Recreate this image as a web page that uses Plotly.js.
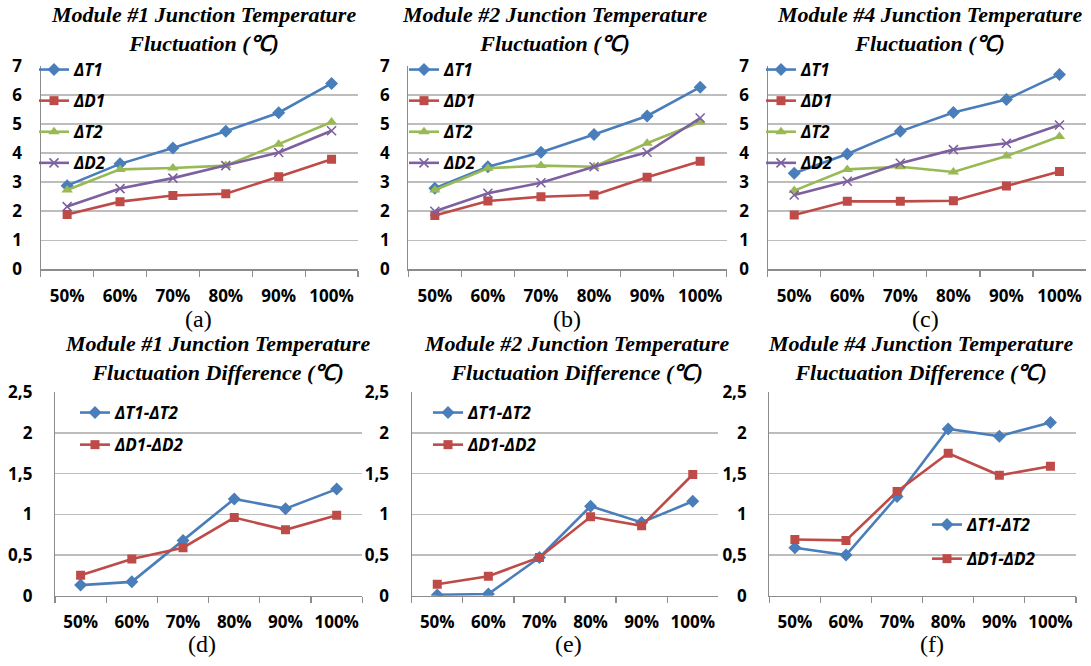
<!DOCTYPE html>
<html>
<head>
<meta charset="utf-8">
<script src="https://cdn.plot.ly/plotly-3.0.1.min.js"></script>
<style>html,body{margin:0;padding:0;background:#fff;}#chart{width:1091px;height:666px;}</style>
</head>
<body>
<div id="chart"></div>
<script>
// ---------- DATA ----------
const categories = ["50%", "60%", "70%", "80%", "90%", "100%"];

// Module #1
const m1_dT1 = [2.88, 3.63, 4.18, 4.75, 5.39, 6.40];
const m1_dD1 = [1.89, 2.33, 2.54, 2.60, 3.19, 3.79];
const m1_dT2 = [2.73, 3.44, 3.49, 3.57, 4.31, 5.07];
const m1_dD2 = [2.16, 2.78, 3.14, 3.57, 4.02, 4.77];
// Module #2
const m2_dT1 = [2.79, 3.53, 4.03, 4.64, 5.28, 6.27];
const m2_dD1 = [1.85, 2.35, 2.50, 2.56, 3.17, 3.72];
const m2_dT2 = [2.73, 3.48, 3.57, 3.53, 4.34, 5.07];
const m2_dD2 = [2.00, 2.62, 2.98, 3.53, 4.03, 5.21];
// Module #4
const m4_dT1 = [3.31, 3.97, 4.75, 5.40, 5.85, 6.71];
const m4_dD1 = [1.87, 2.34, 2.34, 2.36, 2.87, 3.37];
const m4_dT2 = [2.71, 3.44, 3.53, 3.35, 3.90, 4.57];
const m4_dD2 = [2.56, 3.03, 3.65, 4.12, 4.34, 4.97];

// Differences
const m1_diffT = [0.13, 0.17, 0.68, 1.19, 1.07, 1.31];
const m1_diffD = [0.25, 0.45, 0.59, 0.96, 0.81, 0.99];
const m2_diffT = [0.01, 0.02, 0.47, 1.10, 0.90, 1.16];
const m2_diffD = [0.14, 0.24, 0.47, 0.97, 0.86, 1.49];
const m4_diffT = [0.59, 0.50, 1.22, 2.05, 1.96, 2.13];
const m4_diffD = [0.69, 0.68, 1.28, 1.75, 1.48, 1.59];

// Tick labels
const topTickVals = [0, 1, 2, 3, 4, 5, 6, 7];
const topTickText = ["0", "1", "2", "3", "4", "5", "6", "7"];
const botTickVals = [0, 0.5, 1, 1.5, 2, 2.5];
const botTickText = ["0", "0,5", "1", "1,5", "2", "2,5"];

// Text
const seriesNames = ["ΔT1", "ΔD1", "ΔT2", "ΔD2"];
const diffNames = ["ΔT1-ΔT2", "ΔD1-ΔD2"];
const topTitles = [
  "Module #1 Junction Temperature<br>Fluctuation (℃)",
  "Module #2 Junction Temperature<br>Fluctuation (℃)",
  "Module #4 Junction Temperature<br>Fluctuation (℃)"
];
const botTitles = [
  "Module #1 Junction Temperature<br>Fluctuation Difference (℃)",
  "Module #2 Junction Temperature<br>Fluctuation Difference (℃)",
  "Module #4 Junction Temperature<br>Fluctuation Difference (℃)"
];
const captions = ["(a)", "(b)", "(c)", "(d)", "(e)", "(f)"];

// ---------- STYLE / LAYOUT ----------
const W = 1091, H = 666;
const fx = p => p / W;
const fy = p => 1 - p / H;

const BLUE = "#4a7ebb", RED = "#be4b48", GREEN = "#98b954", PURPLE = "#7d60a0";
const sty = [
  {color: BLUE, marker: {symbol: "diamond", size: 10, color: BLUE}},
  {color: RED, marker: {symbol: "square", size: 9, color: RED}},
  {color: GREEN, marker: {symbol: "triangle-up", size: 10, color: GREEN}},
  {color: PURPLE, marker: {symbol: "x-thin", size: 9, color: PURPLE, line: {color: PURPLE, width: 1.6}}}
];

const tickFont = {family: "Open Sans", size: 17, color: "#000", weight: "bold"};
const legFont = {family: "Open Sans", size: 17, color: "#000", weight: "bold", style: "italic"};

// panel pixel boxes: [left, right, top, bottom]
const boxes = [
  [40.7, 358, 66, 269.3],
  [408.3, 726.7, 66, 269.3],
  [767.7, 1086, 66, 269.3],
  [55, 362.3, 392.3, 595.7],
  [411.7, 718.3, 392.3, 595.7],
  [769.3, 1076, 392.3, 595.7]
];

const topSets = [
  [m1_dT1, m1_dD1, m1_dT2, m1_dD2],
  [m2_dT1, m2_dD1, m2_dT2, m2_dD2],
  [m4_dT1, m4_dD1, m4_dT2, m4_dD2]
];
const botSets = [
  [m1_diffT, m1_diffD],
  [m2_diffT, m2_diffD],
  [m4_diffT, m4_diffD]
];

const traces = [];
function legName(i) { return i === 0 ? "legend" : "legend" + (i + 1); }
function axSuffix(i) { return i === 0 ? "" : String(i + 1); }

topSets.forEach((set, p) => {
  set.forEach((ys, k) => {
    traces.push({
      type: "scatter", mode: "lines+markers",
      x: categories, y: ys, name: seriesNames[k],
      xaxis: "x" + axSuffix(p), yaxis: "y" + axSuffix(p),
      legend: legName(p), legendgroup: "p" + p + "s" + k,
      line: {color: sty[k].color, width: 2.6},
      marker: sty[k].marker,
      hoverinfo: "skip"
    });
  });
});
botSets.forEach((set, q) => {
  const p = q + 3;
  set.forEach((ys, k) => {
    traces.push({
      type: "scatter", mode: "lines+markers",
      x: categories, y: ys, name: diffNames[k],
      xaxis: "x" + axSuffix(p), yaxis: "y" + axSuffix(p),
      legend: legName(p), legendgroup: "p" + p + "s" + k,
      line: {color: sty[k].color, width: 2.6},
      marker: sty[k].marker,
      hoverinfo: "skip"
    });
  });
});

const layout = {
  width: W, height: H,
  margin: {l: 0, r: 0, t: 0, b: 0},
  paper_bgcolor: "#fff", plot_bgcolor: "rgba(0,0,0,0)",
  showlegend: true,
  annotations: [],
  font: {family: "Open Sans", color: "#000"}
};

boxes.forEach((b, p) => {
  const s = axSuffix(p);
  const isTop = p < 3;
  layout["xaxis" + s] = {
    domain: [fx(b[0]), fx(b[1])],
    anchor: "y" + s,
    type: "category",
    range: [-0.5, 5.5],
    showgrid: false,
    showline: true, linecolor: "#8c8c8c", linewidth: 1.2,
    ticks: "outside", tickson: "boundaries", ticklen: 6, tickcolor: "#8c8c8c", tickwidth: 1.2,
    tickfont: tickFont,
    tickangle: 0,
    ticklabelstandoff: 11,
    fixedrange: true
  };
  layout["yaxis" + s] = {
    domain: [fy(b[3]), fy(b[2])],
    anchor: "x" + s,
    range: isTop ? [0, 7] : [0, 2.5],
    tickvals: isTop ? topTickVals : botTickVals,
    ticktext: isTop ? topTickText : botTickText,
    showgrid: true, gridcolor: "#bdbdbd", gridwidth: 1.5,
    zeroline: false,
    showline: true, linecolor: "#8c8c8c", linewidth: 1.2,
    ticks: "",
    tickfont: tickFont,
    ticklabelstandoff: isTop ? 14 : 18,
    fixedrange: true
  };
});

// legends
const legPos = [
  {x: 34, y: 52, gap: 6},
  {x: 404, y: 52, gap: 6},
  {x: 761, y: 52, gap: 6},
  {x: 75, y: 395, gap: 7},
  {x: 428, y: 395, gap: 7},
  {x: 927, y: 507, gap: 9}
];
legPos.forEach((L, p) => {
  layout[legName(p)] = {
    x: fx(L.x), y: fy(L.y), xref: "paper", yref: "paper",
    xanchor: "left", yanchor: "top",
    bgcolor: "rgba(0,0,0,0)", borderwidth: 0,
    font: legFont,
    traceorder: "grouped", tracegroupgap: L.gap,
    itemclick: false, itemdoubleclick: false
  };
});

// titles
const titlePos = [
  {x: 203, y: 29}, {x: 554, y: 29}, {x: 929, y: 29},
  {x: 217, y: 358}, {x: 576, y: 358}, {x: 920, y: 358}
];
const allTitles = topTitles.concat(botTitles);
allTitles.forEach((t, i) => {
  layout.annotations.push({
    text: "<b><i>" + t + "</i></b>",
    xref: "paper", yref: "paper",
    x: fx(titlePos[i].x), y: fy(titlePos[i].y),
    xanchor: "center", yanchor: "middle",
    showarrow: false,
    font: {family: "Liberation Serif", size: 22, color: "#000"}
  });
});

// captions
const capPos = [
  {x: 198, y: 319}, {x: 567, y: 319}, {x: 925, y: 319},
  {x: 202, y: 644}, {x: 568, y: 644}, {x: 932, y: 644}
];
captions.forEach((c, i) => {
  layout.annotations.push({
    text: c, xref: "paper", yref: "paper",
    x: fx(capPos[i].x), y: fy(capPos[i].y),
    xanchor: "center", yanchor: "middle", showarrow: false,
    font: {family: "Liberation Serif", size: 24, color: "#000"}
  });
});

Plotly.newPlot("chart", traces, layout, {displayModeBar: false, staticPlot: true});
</script>
</body>
</html>
